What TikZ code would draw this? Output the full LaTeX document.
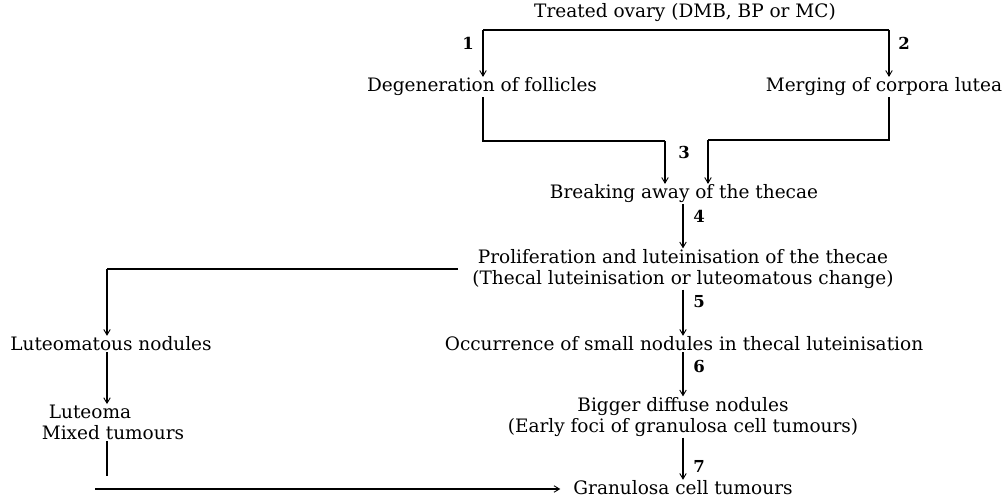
\documentclass[tikz,border=0pt]{standalone}
\usepackage{fontspec}
\setmainfont{DejaVu Serif}
\usetikzlibrary{arrows.meta}
\begin{document}
\begin{tikzpicture}[x=1pt,y=-1pt,line width=1.1pt,
  txt/.style={font=\fontsize{18.5}{21}\selectfont,inner sep=0.5pt,align=center},
  num/.style={font=\fontsize{16.5}{18}\selectfont\bfseries,inner sep=0pt},
  arr/.style={-{Straight Barb[length=5.5pt,width=6.5pt,line width=0.9pt]}}]
\useasboundingbox (0,0) rectangle (1005,500);
% texts
\node[txt] (top)  at (685,13)  {Treated ovary (DMB, BP or MC)};
\node[txt] (deg)  at (482,87)  {Degeneration of follicles};
\node[txt] (mer)  at (884,87)  {Merging of corpora lutea};
\node[txt] (brk)  at (684,194) {Breaking away of the thecae};
\node[txt] (pro)  at (683,269) {Proliferation and luteinisation of the thecae\\(Thecal luteinisation or luteomatous change)};
\node[txt] (lut)  at (111,344) {Luteomatous nodules};
\node[txt] (occ)  at (684,344) {Occurrence of small nodules in thecal luteinisation};
\node[txt] (lma)  at (90,412)  {Luteoma};
\node[txt] (mix)  at (113,433) {Mixed tumours};
\node[txt] (big)  at (683,417) {Bigger diffuse nodules\\(Early foci of granulosa cell tumours)};
\node[txt] (gra)  at (683,488) {Granulosa cell tumours};
% numbers
\node[num] (n1) at (468,43)  {1};
\node[num] (n2) at (904,43)  {2};
\node[num] (n3) at (684,152) {3};
\node[num] (n4) at (699,216) {4};
\node[num] (n5) at (699,302) {5};
\node[num] (n6) at (699,366) {6};
\node[num] (n7) at (699,466) {7};
% corner points
\coordinate (tl) at (483,30);
\coordinate (tr) at (889,30);
\coordinate (ml) at (483,141);
\coordinate (mla) at (665,141);
\coordinate (mr) at (889,140);
\coordinate (mra) at (708,140);
\coordinate (pl) at (458,269);
\coordinate (plc) at (107,269);
\coordinate (bl) at (107,476);
\coordinate (bs) at (95,489);
% connectors
\draw (tl) -- (tr);
\draw[arr] (tl) -- (tl |- deg.north);
\draw[arr] (tr) -- (tr |- mer.north);
\draw (ml |- deg.south) -- (ml) -- (mla);
\draw[arr] (mla) -- (mla |- brk.north);
\draw (mr |- mer.south) -- (mr) -- (mra);
\draw[arr] (mra) -- (mra |- brk.north);
\draw[arr] (brk.south -| 683,0) -- (pro.north -| 683,0);
\draw[arr] (pro.south -| 683,0) -- (occ.north -| 683,0);
\draw (pl) -- (plc);
\draw[arr] (plc) -- (plc |- lut.north);
\draw[arr] (occ.south -| 683,0) -- (big.north -| 683,0);
\draw[arr] (big.south -| 683,0) -- (gra.north -| 683,0);
\draw[arr] (lut.south -| 107,0) -- (lma.north -| 107,0);
\draw (mix.south -| 107,0) -- (bl);
\draw[arr,shorten >=12pt] (bs) -- (bs -| gra.west);
\end{tikzpicture}
\end{document}
